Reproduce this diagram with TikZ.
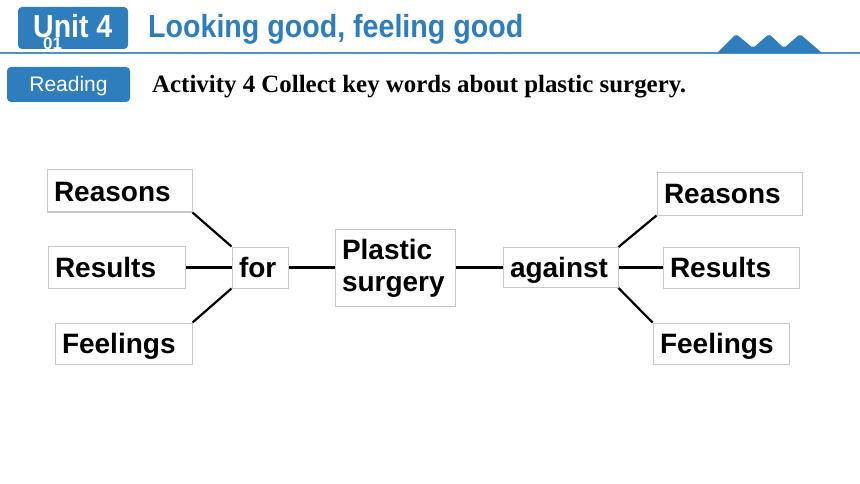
\documentclass[tikz,border=0pt]{standalone}
\usepackage{fontspec}
\setmainfont{Liberation Serif}
\setsansfont{Liberation Sans}
\definecolor{unitblue}{RGB}{46,125,189}
\definecolor{lineblue}{RGB}{76,147,198}
\definecolor{boxgray}{RGB}{200,200,200}
\tikzset{
  keybox/.style={draw=boxgray,line width=1pt,inner xsep=7pt,inner ysep=0pt,align=left,
    font=\sffamily\bfseries\fontsize{28}{32}\selectfont},
  oneline/.style={text height=20pt,text depth=0pt},
  link/.style={line width=2.2pt,black}
}

\begin{document}
\begin{tikzpicture}[x=1pt,y=-1pt]
\useasboundingbox (0,0) rectangle (860,484);

\fill[unitblue,rounded corners=4pt] (18,7) rectangle (128,49);
\node[anchor=base west,inner sep=0,text=white,font=\sffamily\bfseries\fontsize{32}{34}\selectfont] (unit) at (33,38) {\scalebox{0.89}[1]{Unit 4}};
\node[anchor=base west,inner sep=0,text=white,font=\sffamily\bfseries\fontsize{17}{18}\selectfont] (num) at (43,50) {01};
\node[anchor=base west,inner sep=0,text=unitblue,font=\sffamily\bfseries\fontsize{32}{34}\selectfont] (title) at (148,38) {\scalebox{0.894}[1]{Looking good, feeling good}};
\draw[lineblue,line width=2pt] (0,53) -- (860,53);
\fill[unitblue,rounded corners=2pt] (717,53) -- (736,34) -- (753,48) -- (769,34) -- (784,48) -- (800,34) -- (822,53) -- cycle;

\fill[unitblue,rounded corners=4pt] (7,67) rectangle (130,102);
\node[anchor=base,inner sep=0,text=white,font=\sffamily\fontsize{21}{22}\selectfont] (reading) at (68.5,92) {Reading};
\node[anchor=base west,inner sep=0,font=\bfseries\fontsize{24.9}{26}\selectfont] (task) at (152,93) {Activity 4 Collect key words about plastic surgery.};

\node[keybox,oneline,text width=131pt,minimum height=42pt] (rsL) at (119.5,191) {Reasons};
\node[keybox,oneline,text width=123pt,minimum height=42pt] (reL) at (116.5,267.5) {Results};
\node[keybox,oneline,text width=123pt,minimum height=41pt] (feL) at (123.5,343.5) {Feelings};
\node[keybox,oneline,text width=42pt,minimum height=41pt] (for) at (260,267.5) {for};
\node[keybox,text width=106pt,minimum height=77pt] (ps) at (395,268) {Plastic\\surgery};
\node[keybox,oneline,text width=101pt,minimum height=40pt] (against) at (560.5,267.5) {against};
\node[keybox,oneline,text width=131pt,minimum height=42pt] (rsR) at (729.5,194) {Reasons};
\node[keybox,oneline,text width=122pt,minimum height=41pt] (reR) at (731,267.5) {Results};
\node[keybox,oneline,text width=122pt,minimum height=41pt] (feR) at (721,343.5) {Feelings};

\draw[link] (rsL.south east) -- (for.north west);
\draw[link] (reL.east) -- (for.west);
\draw[link] (feL.north east) -- (for.south west);
\draw[link] (for.east) -- (ps.west |- for.east);
\draw[link] (ps.east |- against.west) -- (against.west);
\draw[link] (against.north east) -- (rsR.south west);
\draw[link] (against.east) -- (reR.west);
\draw[link] (against.south east) -- (feR.north west);
\end{tikzpicture}
\end{document}
